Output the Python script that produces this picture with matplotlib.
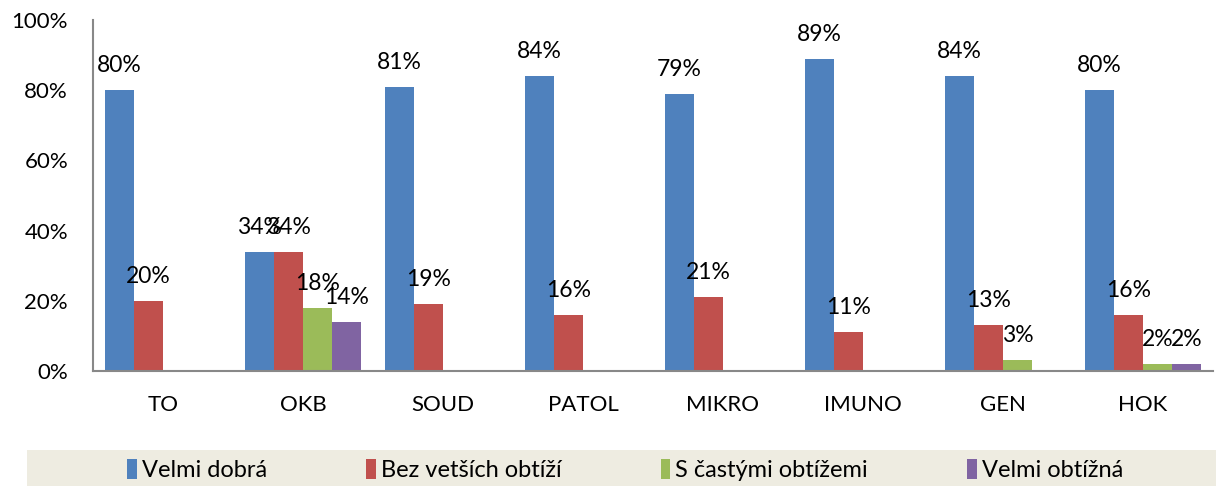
import numpy as np
import matplotlib
matplotlib.use("Agg")
from matplotlib import pyplot as plt
from matplotlib.patches import Rectangle

plt.rcParams['font.family'] = ['Lato', 'DejaVu Sans']

categories = ["TO", "OKB", "SOUD", "PATOL", "MIKRO", "IMUNO", "GEN", "HOK"]
series_names = ["Velmi dobrá", "Bez vetších obtíží", "S častými obtížemi", "Velmi obtížná"]
velmi_dobra = [80, 34, 81, 84, 79, 89, 84, 80]
bez_obtizi = [20, 34, 19, 16, 21, 11, 13, 16]
caste_obtize = [0, 18, 0, 0, 0, 0, 3, 2]
velmi_obtizna = [0, 14, 0, 0, 0, 0, 0, 2]
colors = ["#4F81BD", "#C0504D", "#9BBB59", "#8064A2"]

series = [velmi_dobra, bez_obtizi, caste_obtize, velmi_obtizna]

fig = plt.figure(figsize=(12.16, 4.86), dpi=100)
ax = fig.add_axes([93 / 1216, 115 / 486, 1120 / 1216, 351 / 486])

x = np.arange(len(categories))
w = 0.207
for i, (vals, name, c) in enumerate(zip(series, series_names, colors)):
    pos = x + (i - 1.5) * w
    ax.bar(pos, vals, width=w, color=c, label=name, edgecolor="none")
    for p, v in zip(pos, vals):
        if v > 0:
            ax.annotate(f"{v}%", (p, v), xytext=(0, 13), textcoords="offset points",
                        ha="center", va="baseline", fontsize=16.5, color="black")

ax.set_xlim(-0.5, len(categories) - 0.5)
ax.set_ylim(0, 100)
ax.set_yticks([0, 20, 40, 60, 80, 100])
ax.set_yticklabels([f"{t}%" for t in [0, 20, 40, 60, 80, 100]])
ax.set_xticks(x)
ax.set_xticklabels(categories)
ax.tick_params(axis="y", length=0, pad=18, labelsize=16)
ax.tick_params(axis="x", length=0, pad=17, labelsize=16)
for s in ["top", "right"]:
    ax.spines[s].set_visible(False)
for s in ["left", "bottom"]:
    ax.spines[s].set_color("#888888")
    ax.spines[s].set_linewidth(1.5)

# legend band
fig.patches.append(Rectangle((27 / 1216, 0), 1 - 27 / 1216, 36 / 486,
                             transform=fig.transFigure, facecolor="#EEECE1",
                             edgecolor="none", zorder=0))
fig.legend(loc="center", bbox_to_anchor=(0.514, 16 / 486), ncol=4, frameon=False,
           fontsize=17, handlelength=0.42, handleheight=0.95, handletextpad=0.2,
           columnspacing=4.2)

fig.savefig("out.png", dpi=100)
